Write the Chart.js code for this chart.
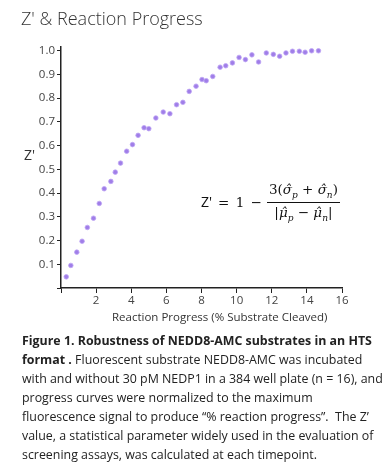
<!DOCTYPE html>
<html>
<head>
<meta charset="utf-8">
<script src="https://cdn.jsdelivr.net/npm/chart.js@4.4.0/dist/chart.umd.min.js"></script>
<style>
  body { margin: 0; background: #fff; font-family: 'Open Sans', sans-serif; color: #333; }
  #wrap { position: relative; width: 391px; height: 468px; overflow: hidden; }
  #chart { position: absolute; left: 0; top: 0; }
  .title { position: absolute; left: 21px; top: 6px; font-size: 18px; font-weight: 300; color: #333; white-space: nowrap; }
  .ylab { position: absolute; left: 24px; top: 145px; font-size: 14px; color: #333; }
  .xlab { position: absolute; left: 112px; top: 309px; font-size: 11.5px; color: #333; white-space: nowrap; }
  .eq { position: absolute; left: 201px; top: 181px; display: flex; align-items: center; font-family: 'DejaVu Serif', serif; font-size: 13.5px; color: #111; white-space: nowrap; }
  .eq .z { font-family: 'Open Sans', sans-serif; font-size: 14px; margin-right: 6px; }
  .eq .op { letter-spacing: 1px; }
  .frac { display: inline-flex; flex-direction: column; align-items: center; margin-left: 4px; }
  .frac .num { padding: 0 2px 2px; border-bottom: 1px solid #111; }
  .frac .den { padding: 1px 2px 0; }
  .eq sub { font-size: 9px; font-style: italic; }
  .caption { position: absolute; left: 22px; top: 331px; font-size: 12.4px; line-height: 19px; color: #222; white-space: nowrap; }
</style>
</head>
<body>
<div id="wrap">
  <canvas id="chart" width="391" height="330"></canvas>
  <div class="title">Z' &amp; Reaction Progress</div>
  <div class="ylab">Z'</div>
  <div class="xlab">Reaction Progress (% Substrate Cleaved)</div>
  <div class="eq">
    <span class="z">Z'</span><span class="op">= 1 &minus;</span>
    <span class="frac">
      <span class="num">3(<i>&sigma;&#770;</i><sub>p</sub> + <i>&sigma;&#770;</i><sub>n</sub>)</span>
      <span class="den">|<i>&mu;&#770;</i><sub>p</sub> &minus; <i>&mu;&#770;</i><sub>n</sub>|</span>
    </span>
  </div>
  <div class="caption">
    <b>Figure 1. Robustness of NEDD8-AMC substrates in an HTS</b><br>
    <b>format .</b> Fluorescent substrate NEDD8-AMC was incubated<br>
    with and without 30 pM NEDP1 in a 384 well plate (n = 16), and<br>
    progress curves were normalized to the maximum<br>
    fluorescence signal to produce “% reaction progress”.&nbsp; The Z’<br>
    value, a statistical parameter widely used in the evaluation of<br>
    screening assays, was calculated at each timepoint.
  </div>
</div>
<script>
// reaction progress (% substrate cleaved) at each timepoint
const progress = [
  0.30, 0.56, 0.90, 1.20, 1.50, 1.85, 2.18, 2.46, 2.84, 3.09,
  3.39, 3.74, 4.07, 4.39, 4.73, 5.00, 5.40, 5.82, 6.20, 6.58,
  6.94, 7.30, 7.69, 8.03, 8.27, 8.64, 9.06, 9.38, 9.76, 10.14,
  10.50, 10.87, 11.25, 11.69, 12.09, 12.45, 12.81, 13.18, 13.57, 13.90,
  14.27, 14.66
];

// Z' value at each timepoint
const zPrime = [
  0.047, 0.095, 0.151, 0.197, 0.255, 0.294, 0.356, 0.418, 0.449, 0.488,
  0.526, 0.576, 0.604, 0.643, 0.675, 0.671, 0.716, 0.741, 0.734, 0.772,
  0.782, 0.828, 0.850, 0.878, 0.873, 0.891, 0.930, 0.936, 0.948, 0.971,
  0.962, 0.982, 0.952, 0.990, 0.984, 0.976, 0.990, 0.997, 0.997, 0.993,
  0.999, 0.999
];

const xTicks = [0, 2, 4, 6, 8, 10, 12, 14, 16];
const yTicks = [0, 0.1, 0.2, 0.3, 0.4, 0.5, 0.6, 0.7, 0.8, 0.9, 1.0];

const tickFont = { family: 'Open Sans', size: 11.5 };

new Chart(document.getElementById('chart'), {
  type: 'scatter',
  data: {
    datasets: [{
      data: progress.map((x, i) => ({ x, y: zPrime[i] })),
      backgroundColor: '#a07ee8',
      borderColor: 'rgba(190,165,245,0.8)',
      borderWidth: 1,
      pointRadius: 2.3
    }]
  },
  options: {
    responsive: false,
    animation: false,
    layout: { padding: { top: 47, right: 49, left: 0, bottom: 0 } },
    plugins: { legend: { display: false }, tooltip: { enabled: false } },
    scales: {
      x: {
        type: 'linear',
        min: 0,
        max: 16,
        afterFit: s => { s.height = 42; },
        afterBuildTicks: s => { s.ticks = xTicks.map(v => ({ value: v })); },
        ticks: {
          font: tickFont,
          color: '#444',
          padding: 1,
          callback: v => (v === 0 ? '' : v)
        },
        grid: { drawOnChartArea: false, drawTicks: true, tickLength: 5, color: '#222', lineWidth: 1 },
        border: { display: true, color: '#222', width: 1.5 }
      },
      y: {
        type: 'linear',
        min: 0,
        max: 1.015,
        afterFit: s => { s.width = 61; },
        afterBuildTicks: s => { s.ticks = yTicks.map(v => ({ value: v })); },
        ticks: {
          font: tickFont,
          color: '#444',
          padding: 2,
          callback: v => (v === 0 ? '' : v.toFixed(1))
        },
        grid: { drawOnChartArea: false, drawTicks: true, tickLength: 4, color: '#222', lineWidth: 1 },
        border: { display: true, color: '#222', width: 1.5 }
      }
    }
  }
});
</script>
</body>
</html>
